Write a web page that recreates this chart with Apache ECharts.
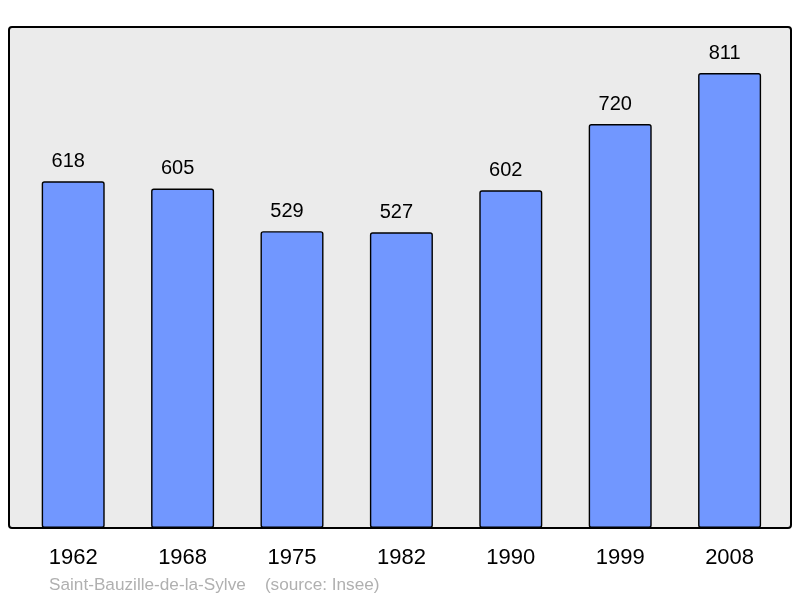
<!DOCTYPE html>
<html><head><meta charset="utf-8">
<script src="https://cdn.jsdelivr.net/npm/echarts@6/dist/echarts.min.js"></script>
<style>html,body{margin:0;padding:0;background:#fff}#c{width:800px;height:598px}</style>
</head><body><div id="c"></div>
<script>
const years = ['1962','1968','1975','1982','1990','1999','2008'];
const population = [618, 605, 529, 527, 602, 720, 811];
const caption = 'Saint-Bauzille-de-la-Sylve    (source: Insee)';

const chart = echarts.init(document.getElementById('c'));
chart.setOption({
  animation: false,
  textStyle: {fontFamily: 'Liberation Sans, Arial, sans-serif'},
  title: {
    text: caption, left: 49, top: 577, padding: 0,
    textStyle: {fontSize: 17.2, fontWeight: 'normal', color: '#b0b0b0', fontFamily: 'Liberation Sans, Arial, sans-serif'}
  },
  graphic: [{
    type: 'rect', z: 0, silent: true,
    shape: {x: 9, y: 27, width: 782, height: 501, r: 3},
    style: {fill: '#ebebeb', stroke: '#000', lineWidth: 2}
  }],
  grid: {left: 18.5, right: 15.7, top: 27, bottom: 70},
  xAxis: {
    type: 'category', data: years,
    axisLine: {show: false}, axisTick: {show: false},
    axisLabel: {fontSize: 22, color: '#000', margin: 19}
  },
  yAxis: {
    type: 'value', min: 0, max: 893,
    show: false, splitLine: {show: false}
  },
  series: [{
    type: 'bar', data: population, z: 2,
    barWidth: 63,
    itemStyle: {color: '#7197ff', borderColor: '#000', borderWidth: 1.4, borderRadius: 2},
    label: {show: true, position: 'top', distance: 10, offset: [-5, 0], fontSize: 20, color: '#000'}
  }]
});
</script></body></html>
